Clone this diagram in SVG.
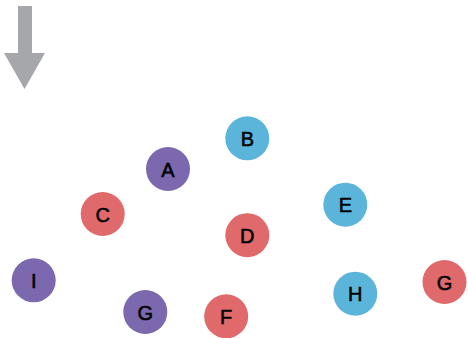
<svg xmlns="http://www.w3.org/2000/svg" width="468" height="338" viewBox="0 0 468 338">
<style>
.n circle{stroke:none}
.p{fill:#7B68AE}
.b{fill:#5BB5DB}
.r{fill:#E0696C}
text{font-family:"Liberation Sans",Arial,sans-serif;font-size:20px;fill:#000;stroke:#000;stroke-width:0.55;text-anchor:middle;dominant-baseline:central}
</style>
<rect width="468" height="338" fill="#fff"/>
<g id="connectors">
<polygon points="18,6 32,6 32,53 45,53 24.5,89 4,53 18,53" fill="#A6A7AA"/>
</g>
<g id="B" class="n"><circle class="b" cx="247.3" cy="138.3" r="22"/><text x="247.3" y="139">B</text></g>
<g id="A" class="n"><circle class="p" cx="168" cy="169" r="22"/><text x="168" y="169.7">A</text></g>
<g id="C" class="n"><circle class="r" cx="102.7" cy="214" r="22"/><text x="102.7" y="214.7">C</text></g>
<g id="E" class="n"><circle class="b" cx="345.3" cy="204.7" r="22"/><text x="345.3" y="205.4">E</text></g>
<g id="D" class="n"><circle class="r" cx="247.3" cy="235.2" r="22"/><text x="247.3" y="235.9">D</text></g>
<g id="I" class="n"><circle class="p" cx="33.7" cy="280.3" r="22"/><text x="33.7" y="281">I</text></g>
<g id="G1" class="n"><circle class="p" cx="145.3" cy="312" r="22"/><text x="145.3" y="312.7">G</text></g>
<g id="F" class="n"><circle class="r" cx="226.2" cy="316.3" r="22"/><text x="226.2" y="317">F</text></g>
<g id="H" class="n"><circle class="b" cx="355.3" cy="293.7" r="22"/><text x="355.3" y="294.4">H</text></g>
<g id="G2" class="n"><circle class="r" cx="444.5" cy="282" r="22"/><text x="444.5" y="282.7">G</text></g>
</svg>
